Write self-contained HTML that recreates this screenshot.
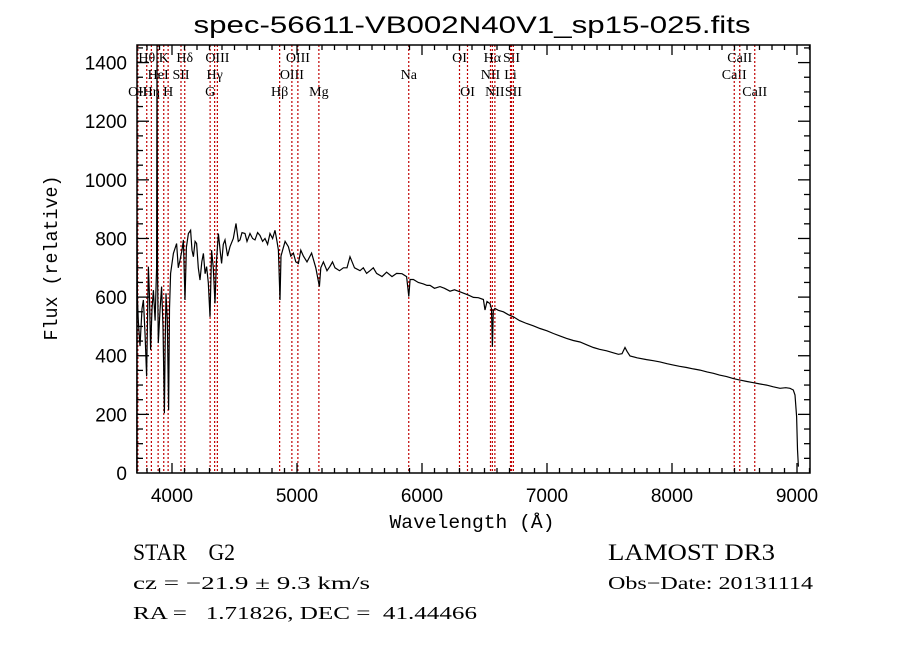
<!DOCTYPE html>
<html><head><meta charset="utf-8"><style>
html,body{margin:0;padding:0;background:#fff;}
svg{display:block;}
</style></head><body>
<svg id="chart" width="900" height="649" xmlns="http://www.w3.org/2000/svg">
<rect width="900" height="649" fill="#fff"/>
<text x="472" y="33" text-anchor="middle" font-family="Liberation Sans, sans-serif" font-size="24" textLength="557" lengthAdjust="spacingAndGlyphs">spec-56611-VB002N40V1_sp15-025.fits</text>
<text x="472" y="528" text-anchor="middle" font-family="Liberation Mono, monospace" font-size="19" textLength="165" lengthAdjust="spacingAndGlyphs">Wavelength (Å)</text>
<text transform="translate(57,258) rotate(-90)" text-anchor="middle" font-family="Liberation Mono, monospace" font-size="19" textLength="165" lengthAdjust="spacingAndGlyphs">Flux (relative)</text>
<g id="lines"></g>
<g id="spec"></g>
<g id="axes"></g>
<g font-family="Liberation Serif, serif">
<text x="133" y="560" font-size="23" textLength="102" lengthAdjust="spacingAndGlyphs" xml:space="preserve">STAR    G2</text>
<text x="608" y="560" font-size="23" textLength="167" lengthAdjust="spacingAndGlyphs">LAMOST DR3</text>
<text x="133" y="589" font-size="18" textLength="237" lengthAdjust="spacingAndGlyphs">cz = −21.9 ± 9.3 km/s</text>
<text x="608" y="589" font-size="18" textLength="205" lengthAdjust="spacingAndGlyphs">Obs−Date: 20131114</text>
<text x="133" y="619" font-size="18" textLength="344" lengthAdjust="spacingAndGlyphs" xml:space="preserve">RA =   1.71826, DEC =  41.44466</text>
</g>
</svg>
<script>
const xTicks = [4000,5000,6000,7000,8000,9000];
const yTicks = [0,200,400,600,800,1000,1200,1400];
const wave = [3718,3720,3723,3730,3744,3760,3771,3785,3797,3811,3820,3829,3840,3851,3865,3877,3880,3884,3890,3905,3917,3928,3939,3945,3952,3962,3973,3980,3989,4011,4037,4050,4064,4080,4091,4104,4115,4131,4149,4160,4171,4185,4197,4210,4224,4238,4251,4265,4277,4290,4304,4317,4330,4344,4355,4371,4385,4397,4410,4424,4445,4464,4490,4512,4530,4544,4560,4584,4600,4624,4645,4664,4685,4704,4725,4744,4765,4784,4805,4824,4840,4851,4864,4872,4885,4905,4931,4950,4971,4990,5011,5030,5051,5080,5117,5150,5179,5190,5211,5240,5264,5284,5304,5340,5371,5400,5424,5460,5504,5530,5557,5584,5610,5637,5680,5717,5760,5797,5840,5877,5894,5905,5931,5970,6011,6040,6064,6100,6144,6180,6224,6260,6304,6340,6371,6411,6450,6491,6504,6520,6544,6556,6563,6570,6584,6610,6651,6690,6731,6780,6837,6890,6944,7000,7051,7100,7157,7210,7264,7320,7371,7420,7477,7530,7571,7600,7624,7640,7664,7720,7797,7850,7904,7960,8011,8060,8117,8170,8224,8280,8331,8380,8437,8490,8544,8600,8651,8700,8757,8810,8864,8910,8944,8970,8984,8997,9004,9011];
const flux = [0,850,600,520,433,560,590,470,330,704,600,420,560,624,520,700,1460,700,443,560,636,500,204,420,613,520,215,560,681,749,783,700,726,760,795,590,770,817,828,760,738,790,783,700,658,720,749,680,704,650,533,760,700,579,720,817,760,715,780,795,740,772,800,851,790,795,820,817,790,817,800,795,820,810,790,800,780,817,800,828,790,760,590,740,760,790,772,740,750,720,715,760,740,720,750,700,636,700,720,690,705,720,700,690,700,700,738,700,690,700,681,690,700,681,670,685,670,681,680,670,602,660,660,650,645,640,640,630,636,630,620,625,618,612,607,599,598,592,556,585,578,560,431,555,561,555,550,540,533,520,510,502,493,485,476,468,459,452,447,437,428,422,417,410,405,407,428,415,399,393,387,383,379,373,368,364,360,355,351,345,340,334,329,322,317,312,308,304,300,294,289,291,289,283,266,193,80,22];
const lineWave = [3727,3798,3835,3889,3934,3969,4072,4102,4305,4341,4363,4861,4959,5007,5175,5894,6300,6364,6548,6563,6583,6708,6716,6731,8498,8542,8662];
const lineLabel = ["OII","Hθ","Hη","HeI","K","H","SII","Hδ","G","Hγ","OIII","Hβ","OIII","OIII","Mg","Na","OI","OI","NII","Hα","NII","Li","SII","SII","CaII","CaII","CaII"];
const lineRow = [2,0,2,1,0,2,1,0,2,1,0,2,1,0,2,1,0,2,1,0,2,1,0,2,1,0,2];

const X0=137,X1=810,Y0=45,Y1=473;
const xMin=3720,xMax=9104,yMin=0,yMax=1460;
const sx=v=>X0+(v-xMin)/(xMax-xMin)*(X1-X0);
const sy=v=>Y1-(v-yMin)/(yMax-yMin)*(Y1-Y0);
const NS="http://www.w3.org/2000/svg";
function mk(tag,attrs,parent){const e=document.createElementNS(NS,tag);for(const k in attrs)e.setAttribute(k,attrs[k]);parent.appendChild(e);return e;}

const lg=document.getElementById('lines');
lineWave.forEach((w,i)=>{
  const l=mk('line',{x1:sx(w),x2:sx(w),y1:Y0,y2:Y1,stroke:'#c00000','stroke-width':1.2,'stroke-dasharray':'2,2'},lg);
  
  
  const t=mk('text',{x:sx(w),y:62+lineRow[i]*17,'text-anchor':'middle','font-family':'Liberation Serif, serif','font-size':14},lg);
  t.textContent=lineLabel[i];
  
  
});

const sg=document.getElementById('spec');
let d='';
wave.forEach((w,i)=>{d+=(i?'L':'M')+sx(w).toFixed(1)+','+sy(Math.min(flux[i],yMax)).toFixed(1);});
const p=mk('path',{d:d,fill:'none',stroke:'#000','stroke-width':1.2,'stroke-linejoin':'miter'},sg);



const ag=document.getElementById('axes');
const fr=mk('rect',{x:X0,y:Y0,width:X1-X0,height:Y1-Y0,fill:'none',stroke:'#000','stroke-width':1.5},ag);


for(let v=3800;v<=9100;v+=100){
  const major=v%1000===0, L=major?10:5;
  mk('line',{x1:sx(v),x2:sx(v),y1:Y1,y2:Y1-L,stroke:'#000','stroke-width':1.3},ag);
  mk('line',{x1:sx(v),x2:sx(v),y1:Y0,y2:Y0+L,stroke:'#000','stroke-width':1.3},ag);
}
xTicks.forEach(v=>{
  const t=mk('text',{x:sx(v),y:502,'text-anchor':'middle','font-family':'Liberation Sans, sans-serif','font-size':19},ag);
  t.textContent=v;
  
  
});
for(let v=50;v<yMax;v+=50){
  const major=v%200===0, L=major?12:6;
  mk('line',{x1:X0,x2:X0+L,y1:sy(v),y2:sy(v),stroke:'#000','stroke-width':1.3},ag);
  mk('line',{x1:X1,x2:X1-L,y1:sy(v),y2:sy(v),stroke:'#000','stroke-width':1.3},ag);
}
yTicks.forEach(v=>{
  const t=mk('text',{x:127,y:sy(v)+7,'text-anchor':'end','font-family':'Liberation Sans, sans-serif','font-size':19},ag);
  t.textContent=v;
  
  
});
</script>
</body></html>
